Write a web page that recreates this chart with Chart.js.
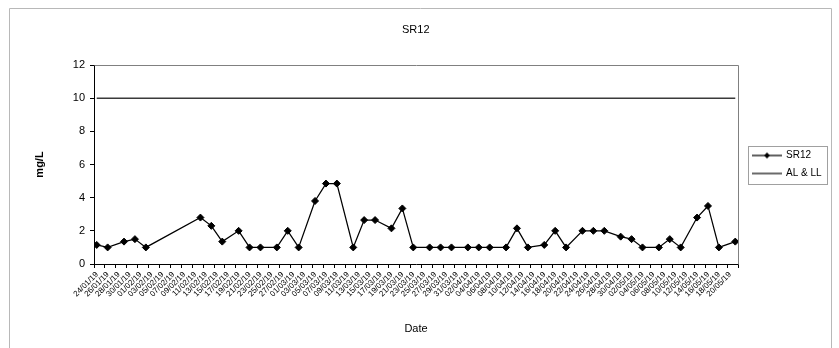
<!DOCTYPE html>
<html>
<head>
<meta charset="utf-8">
<script src="https://cdn.jsdelivr.net/npm/chart.js@4.4.1/dist/chart.umd.min.js"></script>
<style>
html,body{margin:0;padding:0;background:#ffffff;}
canvas{display:block;}
</style>
</head>
<body>
<canvas id="c" width="839" height="348"></canvas>
<script>
// ---------- data ----------
const chartTitle = 'SR12';
const xAxisTitle = 'Date';
const yAxisTitle = 'mg/L';

const sampleDates = [
  '24/01/19','26/01/19','29/01/19','31/01/19','02/02/19',
  '12/02/19','14/02/19','16/02/19','19/02/19','21/02/19','23/02/19',
  '26/02/19','28/02/19','02/03/19','05/03/19','07/03/19','09/03/19',
  '12/03/19','14/03/19','16/03/19','19/03/19','21/03/19','23/03/19',
  '26/03/19','28/03/19','30/03/19','02/04/19','04/04/19','06/04/19',
  '09/04/19','11/04/19','13/04/19','16/04/19','18/04/19','20/04/19',
  '23/04/19','25/04/19','27/04/19','30/04/19','02/05/19','04/05/19',
  '07/05/19','09/05/19','11/05/19','14/05/19','16/05/19','18/05/19',
  '21/05/19'
];
const sr12Values = [
  1.15, 1.0, 1.35, 1.5, 1.0,
  2.8, 2.3, 1.35, 2.0, 1.0, 1.0,
  1.0, 2.0, 1.0, 3.8, 4.85, 4.85,
  1.0, 2.65, 2.65, 2.15, 3.35, 1.0,
  1.0, 1.0, 1.0, 1.0, 1.0, 1.0,
  1.0, 2.15, 1.0, 1.15, 2.0, 1.0,
  2.0, 2.0, 2.0, 1.65, 1.5, 1.0,
  1.0, 1.5, 1.0, 2.8, 3.5, 1.0,
  1.35
];
const limitDates = ['24/01/19', '21/05/19'];
const limitValues = [10, 10];

const tickLabels = [
  '24/01/19','26/01/19','28/01/19','30/01/19','01/02/19','03/02/19','05/02/19','07/02/19',
  '09/02/19','11/02/19','13/02/19','15/02/19','17/02/19','19/02/19','21/02/19','23/02/19',
  '25/02/19','27/02/19','01/03/19','03/03/19','05/03/19','07/03/19','09/03/19','11/03/19',
  '13/03/19','15/03/19','17/03/19','19/03/19','21/03/19','23/03/19','25/03/19','27/03/19',
  '29/03/19','31/03/19','02/04/19','04/04/19','06/04/19','08/04/19','10/04/19','12/04/19',
  '14/04/19','16/04/19','18/04/19','20/04/19','22/04/19','24/04/19','26/04/19','28/04/19',
  '30/04/19','02/05/19','04/05/19','06/05/19','08/05/19','10/05/19','12/05/19','14/05/19',
  '16/05/19','18/05/19','20/05/19'
];
const yMin = 0, yMax = 12, yStep = 2;

// ---------- helpers ----------
const FONT = '"Liberation Sans", Arial, Helvetica, sans-serif';
function dayNum(s) {
  const p = s.split('/').map(Number);
  return Date.UTC(2000 + p[2], p[1] - 1, p[0]) / 86400000;
}
const baseDay = dayNum(sampleDates[0]);
const dx = s => dayNum(s) - baseDay;
const xMin = dx(sampleDates[0]) - 0.5;
const xMax = dx(sampleDates[sampleDates.length - 1]) + 0.5;

// layout targets
const PLOT_LEFT = 94, PLOT_RIGHT = 738, PLOT_TOP = 65, PLOT_BOTTOM = 264;
const LEGEND_FONT = 10, LEGEND_SWATCH = 28, LEGEND_PAD = 8, LEGEND_GAP = 7;

const mctx = document.createElement('canvas').getContext('2d');
mctx.font = LEGEND_FONT + 'px ' + FONT;
const legendTextW = Math.max(mctx.measureText('SR12').width, mctx.measureText('AL & LL').width);
const legendW = LEGEND_PAD + LEGEND_SWATCH + LEGEND_FONT / 2 + legendTextW + 10;
const padRight = Math.max(0, 839 - PLOT_RIGHT - LEGEND_GAP - legendW);

function legendIcon(ds) {
  const c = document.createElement('canvas');
  c.width = 30; c.height = 10;
  const g = c.getContext('2d');
  g.strokeStyle = ds.borderColor;
  g.lineWidth = ds.borderWidth;
  g.beginPath(); g.moveTo(0, 5); g.lineTo(30, 5); g.stroke();
  if (ds.pointRadius > 0) {
    g.fillStyle = ds.pointBackgroundColor;
    g.beginPath();
    g.moveTo(15, 2); g.lineTo(18, 5); g.lineTo(15, 8); g.lineTo(12, 5); g.closePath();
    g.fill();
  }
  return c;
}

const framePlugin = {
  id: 'frame',
  beforeDraw(chart) {
    const ctx = chart.ctx;
    ctx.save();
    ctx.fillStyle = '#ffffff';
    ctx.fillRect(0, 0, chart.width, chart.height);
    ctx.strokeStyle = '#b8b8b8';
    ctx.lineWidth = 1;
    ctx.beginPath();
    ctx.moveTo(9.5, chart.height);
    ctx.lineTo(9.5, 8.5);
    ctx.lineTo(831.5, 8.5);
    ctx.lineTo(831.5, chart.height);
    ctx.stroke();
    ctx.restore();
  },
  beforeDatasetsDraw(chart) {
    const a = chart.chartArea, ctx = chart.ctx;
    ctx.save();
    ctx.strokeStyle = '#808080';
    ctx.lineWidth = 1;
    ctx.beginPath();
    ctx.moveTo(Math.round(a.left) + 0.5, Math.round(a.top) + 0.5);
    ctx.lineTo(Math.round(a.right) + 0.5, Math.round(a.top) + 0.5);
    ctx.lineTo(Math.round(a.right) + 0.5, Math.round(a.bottom) + 0.5);
    ctx.stroke();
    ctx.restore();
  },
  afterDraw(chart) {
    const lg = chart.legend;
    if (!lg || !lg.legendHitBoxes || !lg.legendHitBoxes.length) return;
    const hb = lg.legendHitBoxes;
    const first = hb[0], last = hb[hb.length - 1];
    let maxW = 0; hb.forEach(h => { maxW = Math.max(maxW, h.width); });
    const ctx = chart.ctx;
    ctx.save();
    ctx.strokeStyle = '#a0a0a0';
    ctx.lineWidth = 1;
    const l = Math.round(first.left - 5) + 0.5;
    const t = Math.round(first.top - 5) + 0.5;
    const r = Math.round(first.left + maxW + 5) + 0.5;
    const b = Math.round(last.top + last.height + 5) + 0.5;
    ctx.strokeRect(l, t, r - l, b - t);
    ctx.restore();
  }
};

new Chart(document.getElementById('c'), {
  type: 'line',
  data: {
    datasets: [
      {
        label: 'SR12',
        data: sampleDates.map((d, i) => ({ x: dx(d), y: sr12Values[i] })),
        borderColor: '#000000',
        backgroundColor: '#000000',
        borderWidth: 1.25,
        pointStyle: 'rectRot',
        pointRadius: 3.5,
        pointBackgroundColor: '#000000',
        pointBorderColor: '#000000',
        pointBorderWidth: 1,
        tension: 0,
        fill: false
      },
      {
        label: 'AL & LL',
        data: limitDates.map((d, i) => ({ x: dx(d), y: limitValues[i] })),
        borderColor: '#3a3a3a',
        backgroundColor: '#3a3a3a',
        borderWidth: 1.5,
        pointRadius: 0,
        pointBackgroundColor: '#3a3a3a',
        tension: 0,
        fill: false
      }
    ]
  },
  options: {
    responsive: false,
    animation: false,
    devicePixelRatio: 1,
    layout: { padding: { left: 0, top: 0, right: padRight, bottom: 0 } },
    plugins: {
      title: {
        display: true,
        text: chartTitle,
        color: '#000000',
        font: { family: FONT, size: 11, weight: 'normal' },
        padding: { top: 23, bottom: PLOT_TOP - 23 - 13.2 }
      },
      legend: {
        display: true,
        position: 'right',
        fullSize: false,
        labels: {
          usePointStyle: true,
          pointStyleWidth: LEGEND_SWATCH,
          padding: LEGEND_PAD,
          color: '#000000',
          font: { family: FONT, size: LEGEND_FONT },
          generateLabels(chart) {
            return chart.data.datasets.map((ds, i) => ({
              text: ds.label,
              pointStyle: legendIcon(ds),
              datasetIndex: i,
              hidden: false,
              lineWidth: 0,
              fillStyle: ds.borderColor,
              strokeStyle: ds.borderColor,
              fontColor: '#000000'
            }));
          }
        }
      },
      tooltip: { enabled: false }
    },
    scales: {
      x: {
        type: 'linear',
        position: 'bottom',
        min: xMin,
        max: xMax,
        afterBuildTicks(scale) {
          const t = tickLabels.map(s => ({ value: dx(s) - 0.5 }));
          t.push({ value: xMax });
          scale.ticks = t;
        },
        afterFit(scale) { scale.height = 348 - PLOT_BOTTOM; },
        ticks: {
          autoSkip: false,
          minRotation: 45,
          maxRotation: 45,
          padding: 2,
          labelOffset: 3,
          color: '#000000',
          font: { family: FONT, size: 8 },
          callback(value, index) { return index < tickLabels.length ? tickLabels[index] : ''; }
        },
        grid: {
          display: true,
          drawOnChartArea: false,
          drawTicks: true,
          tickLength: 4,
          color: '#000000',
          tickColor: '#000000'
        },
        border: { display: true, color: '#000000', width: 1 },
        title: {
          display: true,
          text: xAxisTitle,
          color: '#000000',
          font: { family: FONT, size: 11, weight: 'normal' },
          padding: { top: 0, bottom: 12.4 }
        }
      },
      y: {
        type: 'linear',
        position: 'left',
        min: yMin,
        max: yMax,
        afterFit(scale) { scale.width = PLOT_LEFT; },
        ticks: {
          stepSize: yStep,
          padding: 5,
          color: '#000000',
          font: { family: FONT, size: 11 }
        },
        grid: {
          display: true,
          drawOnChartArea: false,
          drawTicks: true,
          tickLength: 4,
          color: '#000000',
          tickColor: '#000000'
        },
        border: { display: true, color: '#000000', width: 1 },
        title: {
          display: true,
          text: yAxisTitle,
          color: '#000000',
          font: { family: FONT, size: 11, weight: 'bold' },
          padding: { top: 33.4, bottom: 0 }
        }
      },
      gap: {
        type: 'linear',
        position: 'right',
        display: true,
        afterFit(scale) { scale.width = LEGEND_GAP; },
        ticks: { display: false },
        grid: { display: false, drawTicks: false },
        border: { display: false }
      }
    }
  },
  plugins: [framePlugin]
});
</script>
</body>
</html>
